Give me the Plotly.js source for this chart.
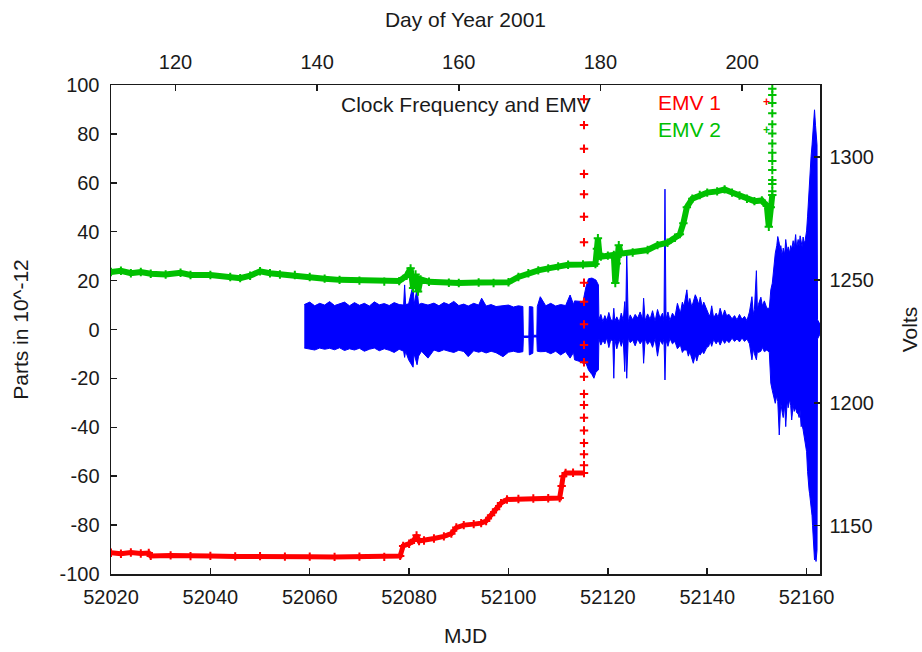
<!DOCTYPE html>
<html><head><meta charset="utf-8">
<script src="https://cdn.plot.ly/plotly-3.0.1.min.js"></script>
<style>html,body{margin:0;padding:0;background:#fff}#chart{width:922px;height:652px}</style>
</head><body><div id="chart"></div>
<script>
// ---- tick values ----
const mjdTicks = [52020, 52040, 52060, 52080, 52100, 52120, 52140, 52160];
const dayTicks = [120, 140, 160, 180, 200];
const partsTicks = [-100, -80, -60, -40, -20, 0, 20, 40, 60, 80, 100];
const voltTicks = [1150, 1200, 1250, 1300];

// ---- EMV 1 (parts in 10^-12) ----
const emv1Mjd = [52020, 52022, 52024, 52026, 52027.6, 52028, 52032, 52036, 52040, 52045, 52050, 52055, 52060, 52065, 52070, 52075, 52078.2,
  52078.8, 52080, 52081, 52081.5, 52082, 52083, 52085, 52087, 52088.5, 52089.5, 52091, 52093, 52094.5, 52095.5, 52096.5, 52097.5, 52098.5,
  52099.7, 52102, 52105, 52108, 52110.3, 52110.7, 52111, 52111.5, 52113, 52115.2];
const emv1Val = [-91.3, -91.7, -91.2, -91.6, -91.4, -92.6, -92.4, -92.7, -92.6, -92.8, -92.7, -92.9, -92.9, -93.0, -92.9, -93.0, -92.6,
  -88.5, -87.6, -86.0, -84.2, -86.5, -86.3, -85.5, -84.6, -83.5, -81.0, -80.0, -79.6, -79.2, -78.3, -76.0, -73.5, -71.0,
  -69.5, -69.3, -69.1, -69.0, -68.9, -64.0, -60.0, -58.7, -58.6, -58.7];
const emv1JumpMjd = 52115.2;
const emv1JumpVal = [-55.5, -51.0, -46.4, -41.3, -36.1, -30.9, -26.4, -19.3, -13.4, -6.3, 2.1, 11.3, 19.1, 35.7, 46.1, 55.3, 63.6, 73.9, 83.6, 94.2];

// ---- EMV 2 (parts in 10^-12) ----
const emv2Mjd = [52020, 52022, 52024, 52026, 52028, 52031, 52034, 52036, 52040, 52044, 52046, 52048, 52050, 52052, 52054, 52057, 52060,
  52063, 52066, 52070, 52075, 52078, 52079.5, 52080.3, 52080.8, 52081.3, 52081.8, 52082.3, 52084, 52088, 52090, 52094, 52097, 52100,
  52102, 52104, 52106, 52108, 52110, 52112, 52115, 52117.5, 52117.8, 52118, 52118.3, 52118.6, 52120, 52121.2, 52121.5, 52121.8, 52122.2,
  52122.6, 52125, 52128, 52130, 52132, 52133.5, 52134.5, 52135.2, 52135.9, 52137, 52138.5, 52140, 52142, 52143.5, 52145, 52146.5,
  52148, 52149.5, 52151, 52152, 52152.4, 52152.8, 52153.1];
const emv2Val = [23.5, 24.0, 23.0, 23.5, 22.8, 22.5, 23.2, 22.3, 22.3, 21.5, 21.0, 22.0, 23.8, 23.0, 22.5, 22.3, 21.5,
  20.8, 20.3, 20.0, 19.6, 19.8, 22.0, 25.0, 17.0, 22.5, 15.5, 20.5, 19.5, 19.1, 19.0, 19.2, 19.0, 19.3,
  21.5, 23.0, 24.2, 25.0, 25.8, 26.5, 26.6, 26.8, 33.0, 37.3, 31.0, 29.8, 30.2, 30.5, 19.0, 27.0, 34.5,
  31.0, 31.5, 32.5, 34.5, 35.5, 37.5, 39.0, 43.5, 50.0, 53.5, 55.0, 56.0, 56.5, 57.3, 56.0, 54.8,
  53.5, 52.5, 52.8, 50.5, 42.0, 50.0, 55.0];
const emv2JumpMjd = 52153.1;
const emv2JumpVal = [56.5, 59.5, 61.1, 65.2, 68.9, 72.3, 76.1, 80.2, 83.9, 88.4, 92.6, 95.9, 98.5];

// ---- Volts (upper / lower envelope of the dense trace) ----
const blueMjd = [52058.9, 52060, 52061, 52062, 52063, 52064, 52065, 52066, 52067, 52068, 52069, 52070, 52071, 52072, 52073, 52074, 52075,
  52076, 52077, 52078, 52078.9, 52079.1, 52079.3, 52079.9, 52080.8, 52081, 52081.6, 52081.9, 52082.5, 52083.8, 52085, 52086, 52087,
  52088, 52089, 52090, 52091, 52091.9, 52093, 52094, 52094.6, 52095.5, 52096.5, 52097.5, 52098.9, 52100, 52101, 52102, 52102.9,
  52103.0, 52104.1, 52104.2, 52104.9, 52105.0, 52105.7, 52105.8, 52106.4, 52107.5, 52108.5, 52109.5, 52110.5, 52111.5, 52112.4,
  52113.1, 52113.3, 52114.4, 52115, 52115.6, 52116.1, 52116.8, 52117.2, 52117.6, 52118.1,
  52118.2, 52118.6, 52119.0, 52119.4, 52119.8, 52120.2, 52120.6, 52121.0, 52121.2, 52121.4, 52121.8, 52122.3, 52122.7, 52123.1,
  52123.4, 52123.6, 52123.8, 52124.1, 52124.5, 52125.0, 52125.5, 52126.0, 52126.5, 52127.0, 52127.2, 52127.5, 52128.0, 52128.5,
  52129.0, 52129.5, 52130.0, 52130.5, 52131.0, 52131.3, 52131.5, 52131.7, 52132.1, 52132.5, 52133.0, 52133.5, 52134.0, 52134.6,
  52135.0, 52135.3, 52135.9, 52136.2, 52136.5, 52136.9, 52137.2, 52137.6, 52137.9, 52138.3, 52138.6, 52139.0, 52139.3, 52139.9,
  52140.3, 52140.6, 52140.9, 52141.3, 52141.8, 52142.2, 52142.6, 52143.1, 52143.5, 52143.9, 52144.4, 52145.0, 52145.5, 52146.0,
  52146.5, 52147.0, 52147.5, 52148.0, 52148.5, 52149.0, 52149.3, 52149.5, 52149.9, 52150.1, 52150.3, 52150.8, 52151.1, 52151.5,
  52152.0, 52152.5, 52152.8, 52153.1, 52153.4, 52153.7, 52154.0, 52154.2, 52154.5, 52154.7, 52154.8, 52155.1, 52155.3, 52155.6,
  52155.8, 52156.1, 52156.3, 52156.6, 52156.8, 52157.0, 52157.3, 52157.5, 52157.8, 52158.0, 52158.3, 52158.5, 52158.7, 52158.9,
  52159.1, 52159.3, 52159.5, 52159.7, 52160.0, 52160.2, 52160.3, 52160.5, 52160.6, 52160.8, 52160.9, 52161.1, 52161.2, 52161.4,
  52161.6, 52161.8, 52161.9, 52162.1, 52162.2, 52162.7];
const blueHigh = [1240.0, 1241.0, 1239.5, 1240.5, 1239.8, 1241.2, 1239.6, 1240.3, 1241.0, 1239.5, 1240.8, 1239.7, 1240.5, 1239.4, 1241.1, 1239.9, 1240.4,
  1239.6, 1240.8, 1240.0, 1239.8, 1248.0, 1240.0, 1240.3, 1248.0, 1240.0, 1246.5, 1240.0, 1240.5, 1239.8, 1240.6, 1239.5, 1240.8,
  1240.0, 1241.3, 1239.6, 1240.2, 1239.4, 1240.5, 1239.8, 1242.6, 1239.4, 1240.0, 1239.2, 1239.6, 1239.8, 1239.0, 1239.5, 1239.2,
  1227.2, 1227.2, 1239.2, 1239.0, 1227.5, 1227.5, 1239.2, 1243.2, 1239.5, 1240.5, 1239.4, 1240.0, 1239.6, 1243.9,
  1240.0, 1241.5, 1241.2, 1241.2, 1247.3, 1250.5, 1250.8, 1250.5, 1250.0, 1248.0,
  1234.0, 1236.0, 1233.0, 1235.5, 1233.5, 1236.8, 1233.8, 1233.5, 1238.5, 1233.2, 1235.0, 1232.8, 1236.5, 1233.5,
  1241.2, 1234.0, 1262.0, 1233.0, 1235.8, 1233.8, 1236.0, 1234.5, 1237.0, 1234.0, 1242.6, 1233.5, 1236.2, 1234.0,
  1237.5, 1233.2, 1238.0, 1234.5, 1236.5, 1233.5, 1287.0, 1234.0, 1237.0, 1233.5, 1236.5, 1234.8, 1240.5, 1236.5,
  1241.0, 1239.2, 1246.0, 1240.0, 1242.5, 1239.0, 1241.0, 1244.0, 1242.6, 1240.0, 1243.0, 1239.0, 1241.0, 1238.0,
  1236.0, 1235.5, 1239.5, 1234.5, 1236.5, 1234.8, 1238.5, 1235.0, 1237.8, 1235.5, 1236.0, 1234.2, 1235.5, 1233.8,
  1236.0, 1234.0, 1235.2, 1233.5, 1237.0, 1243.2, 1236.0, 1238.0, 1253.8, 1238.0, 1240.0, 1243.0, 1239.5, 1241.5,
  1238.5, 1238.5, 1246.0, 1248.7, 1255.0, 1260.9, 1264.0, 1267.7, 1265.0, 1262.0, 1264.0, 1260.0, 1263.0, 1260.5,
  1266.5, 1261.5, 1263.5, 1261.0, 1264.0, 1262.5, 1266.0, 1263.0, 1268.5, 1263.0, 1266.5, 1264.0, 1268.0, 1266.0,
  1263.5, 1267.5, 1265.0, 1266.0, 1270.0, 1276.0, 1280.0, 1286.0, 1289.0, 1296.0, 1300.2, 1305.0, 1308.0, 1316.0,
  1319.3, 1313.0, 1311.1, 1305.0, 1233.8, 1232.0];
const blueLow = [1222.3, 1222.0, 1221.5, 1222.3, 1221.8, 1222.2, 1221.6, 1222.4, 1221.3, 1222.0, 1221.5, 1222.2, 1221.0, 1221.8, 1222.3, 1221.2, 1222.0,
  1221.4, 1220.5, 1221.8, 1221.0, 1218.5, 1221.0, 1217.5, 1214.5, 1220.0, 1215.5, 1219.0, 1221.0, 1218.2, 1221.5, 1220.8, 1221.6,
  1221.0, 1220.5, 1221.4, 1220.9, 1218.8, 1221.2, 1220.6, 1221.0, 1220.3, 1221.0, 1220.4, 1218.8, 1220.6, 1221.0, 1220.5, 1220.8,
  1226.6, 1226.6, 1219.5, 1220.2, 1226.8, 1226.8, 1221.0, 1220.8, 1220.9, 1220.0, 1221.0, 1219.5, 1220.8, 1218.2,
  1220.5, 1217.5, 1216.8, 1216.1, 1216.1, 1213.4, 1211.5, 1210.0, 1212.5, 1213.4,
  1226.0, 1223.5, 1225.5, 1224.0, 1226.5, 1222.5, 1225.8, 1225.0, 1210.0, 1226.0, 1222.0, 1225.8, 1223.0, 1226.0,
  1212.7, 1225.0, 1210.0, 1226.3, 1224.5, 1225.5, 1223.2, 1226.0, 1224.0, 1225.6, 1216.1, 1226.0, 1223.8, 1225.2,
  1222.6, 1226.2, 1219.0, 1225.5, 1223.8, 1226.0, 1209.3, 1225.5, 1223.0, 1226.2, 1224.0, 1225.0, 1222.0, 1223.5,
  1220.5, 1221.5, 1221.5, 1219.0, 1220.8, 1218.0, 1216.1, 1219.5, 1217.0, 1220.0, 1219.5, 1221.0, 1220.0, 1222.5,
  1223.0, 1225.0, 1223.0, 1225.8, 1224.0, 1225.5, 1223.5, 1225.8, 1224.2, 1225.5, 1224.5, 1226.3, 1225.0, 1226.0,
  1224.8, 1226.4, 1225.0, 1226.0, 1224.0, 1217.5, 1222.0, 1220.0, 1217.5, 1221.0, 1220.5, 1221.0, 1222.5, 1220.8,
  1221.5, 1220.5, 1208.0, 1205.0, 1202.0, 1199.8, 1203.0, 1200.5, 1186.9, 1199.0, 1200.0, 1196.0, 1194.0, 1199.0,
  1190.3, 1201.0, 1198.0, 1201.5, 1199.0, 1193.0, 1199.0, 1196.5, 1198.0, 1196.0, 1195.5, 1194.0, 1197.0, 1190.3,
  1191.0, 1189.0, 1186.0, 1184.0, 1180.1, 1172.0, 1168.0, 1164.5, 1163.2, 1160.0, 1158.0, 1154.0, 1150.0, 1140.1,
  1136.0, 1137.0, 1135.4, 1140.0, 1226.0, 1228.0];

const RED = '#ff0000', GREEN = '#00c000', BLUE = '#0000ff', INK = '#1a1a1a';
const FONT = 'Liberation Sans, Arial, sans-serif';
const FS = 20, FT = 21;

function plusMarker(color) {
  return {symbol: 'cross-thin-open', size: 6, color: color, line: {width: 2, color: color}};
}

const traces = [
  {x: blueMjd, y: blueLow, xaxis: 'x', yaxis: 'y', mode: 'lines', line: {color: BLUE, width: 1}, hoverinfo: 'skip', showlegend: false},
  {x: blueMjd, y: blueHigh, xaxis: 'x', yaxis: 'y', mode: 'lines', line: {color: BLUE, width: 1}, fill: 'tonexty', fillcolor: BLUE, hoverinfo: 'skip', showlegend: false},
  {x: dayTicks, y: dayTicks.map(() => null), xaxis: 'x2', yaxis: 'y', mode: 'markers', hoverinfo: 'skip', showlegend: false},
  {x: emv2Mjd, y: emv2Val, xaxis: 'x', yaxis: 'y2', mode: 'lines+markers', line: {color: GREEN, width: 6}, marker: plusMarker(GREEN), hoverinfo: 'skip', showlegend: false},
  {x: emv2JumpVal.map(() => emv2JumpMjd), y: emv2JumpVal, xaxis: 'x', yaxis: 'y2', mode: 'markers', marker: plusMarker(GREEN), hoverinfo: 'skip', showlegend: false},
  {x: emv1Mjd, y: emv1Val, xaxis: 'x', yaxis: 'y2', mode: 'lines+markers', line: {color: RED, width: 5}, marker: plusMarker(RED), hoverinfo: 'skip', showlegend: false},
  {x: emv1JumpVal.map(() => emv1JumpMjd), y: emv1JumpVal, xaxis: 'x', yaxis: 'y2', mode: 'markers', marker: plusMarker(RED), hoverinfo: 'skip', showlegend: false}
];

const axisCommon = {
  showgrid: false, zeroline: false, showline: true, linecolor: INK, linewidth: 1.5,
  ticks: 'inside', ticklen: 6, tickwidth: 1.5, tickcolor: INK,
  tickfont: {family: FONT, size: FS, color: INK}, fixedrange: true
};
const titleFont = {family: FONT, size: FT, color: INK};

const layout = {
  width: 922, height: 652,
  margin: {l: 111, r: 102, t: 85, b: 78, pad: 0},
  paper_bgcolor: '#fff', plot_bgcolor: '#fff',
  showlegend: false,
  font: {family: FONT, size: FS, color: INK},
  xaxis: Object.assign({}, axisCommon, {
    range: [52020, 52162.7], tickmode: 'array', tickvals: mjdTicks, ticktext: mjdTicks.map(String),
    anchor: 'y', side: 'bottom', ticklabelstandoff: 4,
    title: {text: 'MJD', font: titleFont, standoff: 22}
  }),
  xaxis2: Object.assign({}, axisCommon, {
    range: [110.9, 211.0], tickmode: 'array', tickvals: dayTicks, ticktext: dayTicks.map(String),
    overlaying: 'x', anchor: 'y', side: 'top', ticklabelstandoff: 7,
    title: {text: 'Day of Year 2001', font: titleFont, standoff: 17}
  }),
  yaxis: Object.assign({}, axisCommon, {
    range: [1130.3, 1329.4], tickmode: 'array', tickvals: voltTicks, ticktext: voltTicks.map(String),
    anchor: 'x', side: 'right', ticklabelstandoff: 4,
    title: {text: 'Volts', font: titleFont, standoff: 29}
  }),
  yaxis2: Object.assign({}, axisCommon, {
    range: [-100, 100], tickmode: 'array', tickvals: partsTicks, ticktext: partsTicks.map(String),
    overlaying: 'y', anchor: 'x', side: 'left', ticklabelstandoff: 6,
    title: {text: 'Parts in 10^-12', font: titleFont, standoff: 25}
  }),
  annotations: [
    {text: 'Clock Frequency and EMV', xref: 'paper', yref: 'paper', x: 0.5007, y: 0.961, xanchor: 'center', yanchor: 'middle', showarrow: false, font: titleFont},
    {text: 'EMV 1', xref: 'paper', yref: 'paper', x: 0.8632, y: 0.9652, xanchor: 'right', yanchor: 'middle', showarrow: false, font: {family: FONT, size: FT, color: RED}},
    {text: 'EMV 2', xref: 'paper', yref: 'paper', x: 0.8632, y: 0.908, xanchor: 'right', yanchor: 'middle', showarrow: false, font: {family: FONT, size: FT, color: GREEN}},
    {text: '<b>+</b>', xref: 'paper', yref: 'paper', x: 0.9252, y: 0.9652, xanchor: 'center', yanchor: 'middle', showarrow: false, font: {family: FONT, size: 12, color: RED}},
    {text: '<b>+</b>', xref: 'paper', yref: 'paper', x: 0.9252, y: 0.908, xanchor: 'center', yanchor: 'middle', showarrow: false, font: {family: FONT, size: 12, color: GREEN}}
  ]
};

Plotly.newPlot('chart', traces, layout, {displayModeBar: false, staticPlot: true});
</script>
</body></html>
